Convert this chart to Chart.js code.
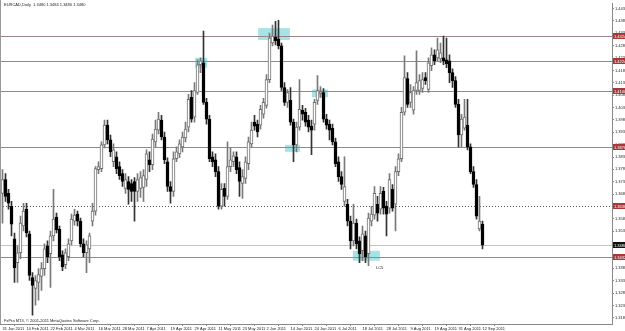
<!DOCTYPE html>
<html>
<head>
<meta charset="utf-8">
<script src="https://cdn.jsdelivr.net/npm/chart.js@4.4.1/dist/chart.umd.min.js"></script>
<style>
  html, body { margin: 0; padding: 0; background: #fff; }
</style>
</head>
<body>
<canvas id="chart" width="625" height="331"></canvas>
<script>
// Texte du graphique
const chartTitle = 'EURCAD,Daily  1.3480 1.3484 1.3480 1.3480';
const copyright = 'FxPro MT4, \u00a9 2001-2011 MetaQuotes Software Corp.';
const zoneLabel = 'LC5';

// Dates affichées (une toutes les 8 bougies)
const dateLabels = ['31 Jan 2011', '10 Feb 2011', '22 Feb 2011', '4 Mar 2011', '16 Mar 2011', '28 Mar 2011',
    '7 Apr 2011', '19 Apr 2011', '29 Apr 2011', '11 May 2011', '23 May 2011', '2 Jun 2011', '14 Jun 2011',
    '24 Jun 2011', '6 Jul 2011', '18 Jul 2011', '28 Jul 2011', '9 Aug 2011', '19 Aug 2011', '31 Aug 2011', '12 Sep 2011'];

// Prix de l'axe de droite
const priceTicks = [1.4435, 1.4385, 1.4335, 1.4285, 1.4235, 1.4185, 1.4135, 1.4085, 1.4035, 1.3985, 1.3935,
    1.3885, 1.3835, 1.3785, 1.3735, 1.3685, 1.3635, 1.3585, 1.3535, 1.3485, 1.3435, 1.3385, 1.3335, 1.3285,
    1.3235, 1.3185];

// Bougies journalières
const opens = [1.3688, 1.3744, 1.3688, 1.3636, 1.3504, 1.3408, 1.3448, 1.3556, 1.3624, 1.3524,
    1.3348, 1.3304, 1.3328, 1.3352, 1.3384, 1.3476, 1.3444, 1.3516, 1.3592, 1.3544,
    1.3440, 1.3400, 1.3432, 1.3496, 1.3576, 1.3604, 1.3576, 1.3484, 1.3448, 1.3464,
    1.3576, 1.3616, 1.3784, 1.3788, 1.3884, 1.3964, 1.3904, 1.3816, 1.3836, 1.3796,
    1.3768, 1.3708, 1.3736, 1.3728, 1.3736, 1.3696, 1.3708, 1.3712, 1.3744, 1.3824,
    1.3804, 1.3896, 1.3944, 1.3984, 1.3916, 1.3816, 1.3716, 1.3696, 1.3828, 1.3848,
    1.3876, 1.3912, 1.3956, 1.4076, 1.3996, 1.4096, 1.4208, 1.4216, 1.4056, 1.3988,
    1.3836, 1.3824, 1.3776, 1.3636, 1.3708, 1.3676, 1.3796, 1.3816, 1.3836, 1.3792,
    1.3728, 1.3748, 1.3808, 1.3888, 1.3976, 1.3968, 1.3964, 1.4008, 1.4044, 1.4148,
    1.4296, 1.4320, 1.4312, 1.4284, 1.4116, 1.4056, 1.4064, 1.3976, 1.3884, 1.3956,
    1.4024, 1.4016, 1.3984, 1.3960, 1.3968, 1.4064, 1.4092, 1.4096, 1.3988, 1.3968,
    1.3952, 1.3896, 1.3816, 1.3756, 1.3656, 1.3644, 1.3576, 1.3496, 1.3568, 1.3496,
    1.3456, 1.3516, 1.3444, 1.3576, 1.3600, 1.3644, 1.3624, 1.3696, 1.3636, 1.3628,
    1.3704, 1.3644, 1.3776, 1.3828, 1.4016, 1.4152, 1.4056, 1.4024, 1.4104, 1.4104,
    1.4112, 1.4156, 1.4108, 1.4204, 1.4248, 1.4236, 1.4232, 1.4236, 1.4228, 1.4224,
    1.4176, 1.4144, 1.4048, 1.3924, 1.3952, 1.3964, 1.3876, 1.3776, 1.3724, 1.3544,
    1.3564];
const highs = [1.3784, 1.3768, 1.3704, 1.3656, 1.3528, 1.3476, 1.3596, 1.3648, 1.3648, 1.3536,
    1.3368, 1.3356, 1.3384, 1.3408, 1.3484, 1.3496, 1.3536, 1.3704, 1.3608, 1.3556,
    1.3456, 1.3464, 1.3504, 1.3604, 1.3624, 1.3616, 1.3588, 1.3504, 1.3496, 1.3528,
    1.3648, 1.3796, 1.3816, 1.3896, 1.3984, 1.3984, 1.3924, 1.3888, 1.3856, 1.3816,
    1.3784, 1.3768, 1.3756, 1.3744, 1.3752, 1.3768, 1.3776, 1.3784, 1.3864, 1.3856,
    1.3928, 1.3984, 1.4016, 1.4004, 1.3936, 1.3832, 1.3736, 1.3856, 1.3876, 1.3904,
    1.3936, 1.3976, 1.4088, 1.4104, 1.4136, 1.4228, 1.4236, 1.4344, 1.4072, 1.4004,
    1.3856, 1.3848, 1.3796, 1.3728, 1.3728, 1.3896, 1.3872, 1.3856, 1.3856, 1.3816,
    1.3784, 1.3836, 1.3916, 1.3976, 1.4004, 1.3984, 1.4044, 1.4072, 1.4168, 1.4336,
    1.4368, 1.4384, 1.4388, 1.4296, 1.4136, 1.4108, 1.4116, 1.3988, 1.3976, 1.4148,
    1.4044, 1.4032, 1.4004, 1.3984, 1.4068, 1.4164, 1.4120, 1.4112, 1.4008, 1.3984,
    1.3968, 1.3912, 1.3836, 1.3776, 1.3836, 1.3664, 1.3596, 1.3644, 1.3584, 1.3512,
    1.3556, 1.3536, 1.3608, 1.3636, 1.3716, 1.3676, 1.3716, 1.3712, 1.3656, 1.3768,
    1.3724, 1.3796, 1.3848, 1.4036, 1.4244, 1.4176, 1.4128, 1.4120, 1.4264, 1.4168,
    1.4176, 1.4176, 1.4236, 1.4276, 1.4268, 1.4316, 1.4296, 1.4324, 1.4316, 1.4248,
    1.4192, 1.4160, 1.4068, 1.4008, 1.4068, 1.4068, 1.3888, 1.3796, 1.3744, 1.3676,
    1.3576];
const lows = [1.3568, 1.3656, 1.3624, 1.3516, 1.3328, 1.3328, 1.3424, 1.3536, 1.3512, 1.3336,
    1.3196, 1.3236, 1.3256, 1.3296, 1.3356, 1.3408, 1.3308, 1.3496, 1.3528, 1.3416,
    1.3376, 1.3384, 1.3416, 1.3480, 1.3560, 1.3556, 1.3472, 1.3432, 1.3368, 1.3408,
    1.3556, 1.3600, 1.3768, 1.3776, 1.3872, 1.3888, 1.3836, 1.3796, 1.3768, 1.3744,
    1.3716, 1.3688, 1.3644, 1.3656, 1.3576, 1.3656, 1.3672, 1.3656, 1.3716, 1.3776,
    1.3784, 1.3876, 1.3928, 1.3904, 1.3808, 1.3696, 1.3648, 1.3676, 1.3816, 1.3832,
    1.3856, 1.3896, 1.3936, 1.3976, 1.3976, 1.4088, 1.4176, 1.4048, 1.3968, 1.3816,
    1.3796, 1.3756, 1.3624, 1.3624, 1.3636, 1.3664, 1.3776, 1.3796, 1.3768, 1.3676,
    1.3668, 1.3728, 1.3784, 1.3876, 1.3944, 1.3916, 1.3948, 1.3992, 1.4032, 1.4136,
    1.4284, 1.4288, 1.4272, 1.4104, 1.4044, 1.4036, 1.3964, 1.3816, 1.3856, 1.3944,
    1.3984, 1.3960, 1.3936, 1.3844, 1.3944, 1.4048, 1.4076, 1.3976, 1.3948, 1.3904,
    1.3884, 1.3796, 1.3736, 1.3704, 1.3636, 1.3556, 1.3464, 1.3476, 1.3464, 1.3408,
    1.3416, 1.3408, 1.3396, 1.3556, 1.3584, 1.3576, 1.3604, 1.3604, 1.3516, 1.3608,
    1.3616, 1.3536, 1.3760, 1.3816, 1.4004, 1.4036, 1.4036, 1.4008, 1.4088, 1.4088,
    1.4096, 1.4128, 1.4096, 1.4184, 1.4208, 1.4224, 1.4216, 1.4208, 1.4196, 1.4136,
    1.4116, 1.4036, 1.3876, 1.3876, 1.3944, 1.3864, 1.3768, 1.3712, 1.3584, 1.3536,
    1.3464];
const closes = [1.3744, 1.3676, 1.3648, 1.3564, 1.3388, 1.3448, 1.3568, 1.3616, 1.3528, 1.3356,
    1.3316, 1.3336, 1.3360, 1.3384, 1.3464, 1.3432, 1.3516, 1.3584, 1.3540, 1.3432,
    1.3392, 1.3448, 1.3484, 1.3584, 1.3600, 1.3576, 1.3484, 1.3448, 1.3480, 1.3516,
    1.3616, 1.3788, 1.3796, 1.3884, 1.3964, 1.3904, 1.3856, 1.3864, 1.3788, 1.3760,
    1.3736, 1.3744, 1.3704, 1.3696, 1.3696, 1.3744, 1.3752, 1.3760, 1.3848, 1.3804,
    1.3908, 1.3948, 1.3988, 1.3916, 1.3824, 1.3716, 1.3696, 1.3828, 1.3856, 1.3888,
    1.3916, 1.3948, 1.4068, 1.3988, 1.4104, 1.4208, 1.4224, 1.4056, 1.3988, 1.3828,
    1.3816, 1.3776, 1.3636, 1.3704, 1.3676, 1.3796, 1.3824, 1.3840, 1.3784, 1.3736,
    1.3756, 1.3816, 1.3896, 1.3944, 1.3960, 1.3936, 1.4028, 1.4056, 1.4148, 1.4316,
    1.4324, 1.4304, 1.4284, 1.4116, 1.4056, 1.4096, 1.3976, 1.3884, 1.3956, 1.4028,
    1.4008, 1.3976, 1.3956, 1.3944, 1.4056, 1.4104, 1.4100, 1.3988, 1.3964, 1.3944,
    1.3896, 1.3808, 1.3756, 1.3724, 1.3716, 1.3576, 1.3496, 1.3568, 1.3484, 1.3444,
    1.3524, 1.3432, 1.3588, 1.3604, 1.3688, 1.3608, 1.3688, 1.3628, 1.3604, 1.3744,
    1.3628, 1.3776, 1.3828, 1.4016, 1.4156, 1.4048, 1.4096, 1.4104, 1.4136, 1.4144,
    1.4148, 1.4144, 1.4216, 1.4248, 1.4224, 1.4268, 1.4256, 1.4224, 1.4212, 1.4176,
    1.4144, 1.4048, 1.3924, 1.3988, 1.3996, 1.3876, 1.3776, 1.3724, 1.3596, 1.3576,
    1.3480];

// Niveaux horizontaux tracés sur le graphique
const levels = [1.4324, 1.4224, 1.4100, 1.3876, 1.3432];
const dottedLevel = 1.3636;
const bidPrice = 1.3480;

// Zones surlignées: [bougie début, bougie fin, prix haut, prix bas]
const zones = [
    [85.2, 95.8, 1.4356, 1.4308],
    [64.2, 68.2, 1.4236, 1.4196],
    [94.2, 99.2, 1.3884, 1.3856],
    [103.2, 108.5, 1.4108, 1.4076],
    [116.8, 125.8, 1.3456, 1.3416]
];
const zoneLabelPos = [124.5, 1.3386];

const FONT = { family: 'Liberation Sans', size: 4 };

let wicks = highs.map((h, i) => ({ x: i, y: [lows[i], h] }));
let bodies = opens.map((o, i) => ({ x: i, y: [Math.min(o, closes[i]), Math.max(o, closes[i])] }));
let bull = opens.map((o, i) => closes[i] >= o);

// Plugin pour les niveaux, zones et textes
const mtPlugin = {
    id: 'mt',
    beforeDatasetsDraw(chart) {
        const { ctx, chartArea: a, scales: { x, y } } = chart;
        ctx.save();
        ctx.fillStyle = '#a6e3e6';
        zones.forEach(z => {
            const x0 = x.getPixelForValue(z[0]), x1 = x.getPixelForValue(z[1]);
            const y0 = y.getPixelForValue(z[2]), y1 = y.getPixelForValue(z[3]);
            ctx.fillRect(x0, y0, x1 - x0, y1 - y0);
        });
        ctx.lineWidth = 1;
        levels.forEach(l => {
            const py = Math.round(y.getPixelForValue(l)) + 0.5;
            ctx.strokeStyle = '#9a8686';
            ctx.beginPath(); ctx.moveTo(a.left, py); ctx.lineTo(a.right, py); ctx.stroke();
        });
        let py = Math.round(y.getPixelForValue(dottedLevel)) + 0.5;
        ctx.strokeStyle = '#555';
        ctx.setLineDash([1, 2]);
        ctx.beginPath(); ctx.moveTo(a.left, py); ctx.lineTo(a.right, py); ctx.stroke();
        ctx.setLineDash([]);
        py = Math.round(y.getPixelForValue(bidPrice)) + 0.5;
        ctx.strokeStyle = '#c4c4c4';
        ctx.beginPath(); ctx.moveTo(a.left, py); ctx.lineTo(a.right, py); ctx.stroke();
        ctx.restore();
    },
    afterDraw(chart) {
        const { ctx, chartArea: a, scales: { x, y } } = chart;
        ctx.save();
        ctx.strokeStyle = '#999';
        ctx.beginPath(); ctx.moveTo(0.5, 0); ctx.lineTo(0.5, a.bottom); ctx.stroke();
        ctx.font = FONT.size + 'px ' + FONT.family;
        ctx.textBaseline = 'middle';
        // étiquettes des niveaux sur l'axe
        const tag = (v, bg) => {
            const py = Math.round(y.getPixelForValue(v));
            ctx.fillStyle = bg;
            ctx.fillRect(a.right + 1, py - 3, 13, 6);
            ctx.fillStyle = '#fff';
            ctx.textAlign = 'left';
            ctx.fillText(v.toFixed(4), a.right + 2, py + 0.5);
        };
        levels.forEach(l => tag(l, '#a83838'));
        tag(dottedLevel, '#a83838');
        tag(bidPrice, '#111');
        ctx.fillStyle = '#222';
        ctx.textAlign = 'left';
        ctx.fillText(chartTitle, 4, 5);
        ctx.fillText(copyright, 4, a.bottom - 3);
        ctx.fillText(zoneLabel, x.getPixelForValue(zoneLabelPos[0]), y.getPixelForValue(zoneLabelPos[1]));
        ctx.restore();
    }
};

let chart = new Chart(document.getElementById('chart').getContext('2d'), {
    type: 'bar',
    data: {
        datasets: [{
            label: 'mèches',
            data: wicks,
            backgroundColor: bull.map(b => b ? '#7a7a7a' : '#333'),
            barThickness: 1,
            grouped: false,
            order: 2
        }, {
            label: 'corps',
            data: bodies,
            backgroundColor: bull.map(b => b ? '#fff' : '#000'),
            borderColor: bull.map(b => b ? '#6e6e6e' : '#000'),
            borderWidth: 1,
            borderSkipped: false,
            barThickness: 3,
            minBarLength: 1,
            grouped: false,
            order: 1
        }]
    },
    options: {
        responsive: false,
        animation: false,
        layout: { padding: 0 },
        plugins: { legend: { display: false }, tooltip: { enabled: false } },
        scales: {
            x: {
                type: 'linear',
                offset: false,
                min: -2.5 / 3,
                max: -2.5 / 3 + 204,
                afterBuildTicks: s => { s.ticks = dateLabels.map((d, i) => ({ value: i * 8 })); },
                afterFit: s => { s.height = 7; },
                border: { display: true, color: '#888' },
                grid: { drawOnChartArea: false, drawTicks: true, tickLength: 2, color: '#888' },
                ticks: {
                    font: FONT, color: '#222', padding: 0, align: 'start', maxRotation: 0, autoSkip: false,
                    callback: v => dateLabels[Math.round(v / 8)]
                }
            },
            y: {
                type: 'linear',
                position: 'right',
                min: 1.3160,
                max: 1.4456,
                afterBuildTicks: s => { s.ticks = priceTicks.map(v => ({ value: v })); },
                afterFit: s => { s.width = 13; },
                border: { display: true, color: '#888' },
                grid: { drawOnChartArea: false, drawTicks: true, tickLength: 2, color: '#888' },
                ticks: { font: FONT, color: '#222', padding: 1, callback: v => v.toFixed(4) }
            }
        }
    },
    plugins: [mtPlugin]
});
</script>
</body>
</html>
